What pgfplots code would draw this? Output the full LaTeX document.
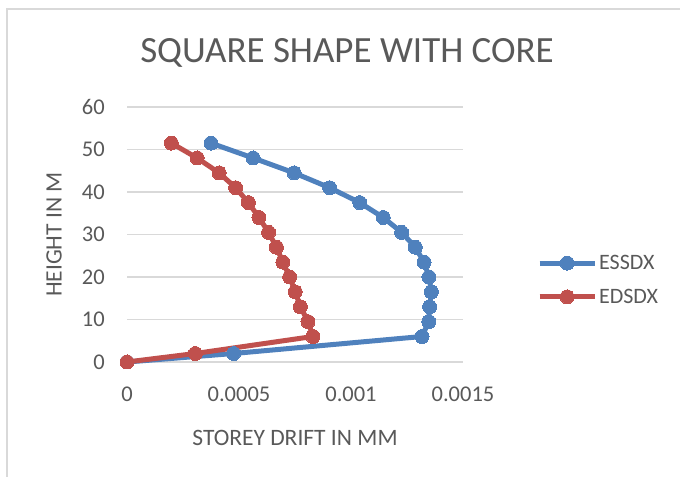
\documentclass[border=0pt]{standalone}
\usepackage{pgfplots}
\pgfplotsset{compat=1.18}
\usepackage{pgfplotstable}
\usepackage{fontspec}
\setmainfont{Carlito}
\definecolor{cblue}{HTML}{4F81BD}
\definecolor{cred}{HTML}{C0504D}
\definecolor{cgrid}{HTML}{D9D9D9}
\definecolor{ctext}{HTML}{595959}
\pgfplotstableread{
x h
0 0
0.000476 2
0.001317 6
0.001347 9.5
0.001351 13
0.001359 16.5
0.001348 20
0.001326 23.5
0.001287 27
0.001226 30.5
0.001144 34
0.001039 37.5
0.000905 41
0.000746 44.5
0.000563 48
0.000375 51.5
}\essdx
\pgfplotstableread{
x h
0 0
0.000305 2
0.000830 6
0.000808 9.5
0.000774 13
0.000751 16.5
0.000726 20
0.000696 23.5
0.000667 27
0.000632 30.5
0.000589 34
0.000542 37.5
0.000485 41
0.000411 44.5
0.000313 48
0.000198 51.5
}\edsdx
\begin{document}
\begin{tikzpicture}
\useasboundingbox (0,0) rectangle (680bp,477bp);
\draw[cgrid, line width=1.5bp] (7bp,0) -- (7bp,468bp) -- (680bp,468bp);
\begin{axis}[
  at={(127bp,115bp)}, anchor=south west,
  scale only axis, width=336bp, height=255bp,
  xmin=0, xmax=0.0015, ymin=0, ymax=60,
  clip=false,
  axis line style={draw=none},
  tick style={draw=none},
  xtick={0,0.0005,0.001,0.0015},
  xticklabels={0,0.0005,0.001,0.0015},
  ytick={0,10,20,30,40,50,60},
  yticklabels={0,10,20,30,40,50,60},
  scaled ticks=false,
  ymajorgrids,
  grid style={cgrid, line width=1.2bp},
  xticklabel style={anchor=north, inner sep=0pt, yshift=-25bp, font=\fontsize{22.5bp}{27bp}\selectfont, text=ctext},
  yticklabel style={anchor=east, inner sep=0pt, xshift=-22bp, font=\fontsize{22.5bp}{27bp}\selectfont, text=ctext},
  legend style={at={(rel axis cs:1.22,0.3216)}, anchor=west, draw=none, fill=none,
    font=\fontsize{22bp}{26bp}\selectfont, text=ctext, inner sep=0pt,
    row sep=14bp,
    nodes={inner sep=2bp}},
  legend cell align=left,
  legend image code/.code={\draw[mark repeat=2, mark phase=2, #1] plot coordinates {(0bp,0bp) (27.5bp,0bp) (55bp,0bp)};},
]
\addplot[cblue, line width=5bp, mark=*, mark size=7bp, mark options={fill=cblue, draw=cblue, line width=0pt}] table[x=x, y=h] {\essdx};
\addlegendentry{ESSDX}
\addplot[cred, line width=5bp, mark=*, mark size=7bp, mark options={fill=cred, draw=cred, line width=0pt}] table[x=x, y=h] {\edsdx};
\addlegendentry{EDSDX}
\end{axis}
\node[anchor=north, inner sep=0pt, text=ctext, font=\fontsize{37bp}{44bp}\selectfont] at (347bp,438.7bp) {SQUARE SHAPE WITH CORE};
\node[anchor=north, inner sep=0pt, text=ctext, font=\fontsize{23.5bp}{28bp}\selectfont] at (295bp,47bp) {STOREY DRIFT IN MM};
\node[anchor=south, rotate=90, inner sep=0pt, text=ctext, font=\fontsize{23.5bp}{28bp}\selectfont] at (62bp,242.5bp) {HEIGHT IN M};
\end{tikzpicture}
\end{document}
